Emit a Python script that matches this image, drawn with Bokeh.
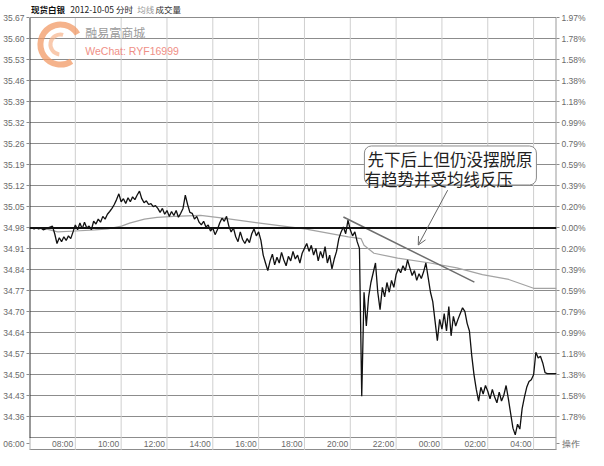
from bokeh.plotting import figure
from bokeh.models import Range1d, LinearAxis, FixedTicker, Span, Label, Arrow, OpenHead
from bokeh.core.properties import value
from bokeh.embed import file_html
from bokeh.resources import INLINE

# ---------------- data ----------------
# price sampled every 6 minutes from 06:00 (minute 0) to 05:00 next day (minute 1380)
price = [
    34.980, 34.980, 34.977, 34.980, 34.977, 34.980, 34.974, 34.977, 34.980, 34.983, 34.986,
    34.961, 34.929,
    34.948, 34.935, 34.951, 34.939, 34.954, 34.945,
    34.967, 34.990,
    34.974, 34.996, 34.977, 34.999, 34.980, 34.986, 34.974, 35.002,
    34.993, 35.009, 34.999, 35.018, 35.009, 35.025,
    35.034, 35.044, 35.057,
    35.073, 35.092, 35.066,
    35.076, 35.060, 35.079, 35.066, 35.082, 35.073, 35.088,
    35.101, 35.076,
    35.063, 35.069, 35.057, 35.060, 35.050, 35.053, 35.044,
    35.031, 35.044, 35.025, 35.037, 35.018, 35.034, 35.021, 35.037, 35.015, 35.028, 35.044,
    35.088, 35.057, 35.031,
    35.028, 35.009, 35.018, 34.999,
    34.990, 35.002, 34.983, 34.990,
    34.970, 34.980, 34.958, 34.974,
    34.996, 35.012, 35.002, 35.018,
    34.986, 34.967, 34.980,
    34.951, 34.935, 34.967, 34.942, 34.929, 34.945, 34.932,
    34.961, 34.977, 34.954, 34.967, 34.939,
    34.891, 34.865, 34.840,
    34.872, 34.894, 34.859, 34.884, 34.865, 34.900, 34.875, 34.856, 34.887, 34.872, 34.903, 34.878,
    34.891, 34.865, 34.897, 34.913,
    34.929, 34.903, 34.923,
    34.891, 34.913, 34.872, 34.903, 34.881, 34.919, 34.865, 34.891, 34.846, 34.878, 34.903,
    34.945, 34.967, 34.983, 34.961, 35.006,
    34.974, 34.954, 34.967, 34.935, 34.913,
    34.428, 34.769, 34.658, 34.754, 34.801, 34.833, 34.865, 34.769, 34.712, 34.785, 34.754,
    34.801, 34.769, 34.808, 34.785, 34.827,
    34.846, 34.833, 34.856, 34.840, 34.875, 34.849,
    34.824, 34.840, 34.808, 34.830, 34.814, 34.836,
    34.865, 34.817, 34.769, 34.738, 34.674, 34.610,
    34.680, 34.648, 34.699, 34.642, 34.722,
    34.626, 34.690, 34.658, 34.680, 34.699, 34.718, 34.706, 34.667, 34.642,
    34.562, 34.498, 34.450, 34.412, 34.457,
    34.435, 34.463, 34.444, 34.419, 34.450, 34.425, 34.406, 34.441, 34.412, 34.431,
    34.463, 34.419, 34.371, 34.323, 34.301, 34.336, 34.320, 34.387, 34.425, 34.457,
    34.476, 34.482, 34.498, 34.572, 34.553, 34.559, 34.537, 34.505,
    34.502, 34.502, 34.502, 34.502, 34.502,
]
minutes = list(range(0, 6 * len(price), 6))

# average-price line (均线)
avg_minutes = [0, 43, 74, 120, 172, 205, 241, 262, 301, 334, 378, 448, 507, 603,
               721, 835, 868, 876, 902, 964, 1049, 1119, 1186, 1255, 1320, 1380]
avg_price = [34.980, 34.977, 34.967, 34.970, 34.974, 34.977, 34.986, 34.996, 35.009,
             35.015, 35.018, 35.021, 35.012, 34.996, 34.977, 34.951, 34.945, 34.923,
             34.897, 34.881, 34.865, 34.849, 34.827, 34.811, 34.782, 34.782]

# hand-drawn resistance line
trend_minutes = [822, 1165]
trend_price = [35.016, 34.802]

# axes
price_base = 34.98
price_step = 0.0689
price_labels = ["35.67", "35.60", "35.53", "35.46", "35.39", "35.32", "35.26", "35.19",
                "35.12", "35.05", "34.98", "34.91", "34.84", "34.77", "34.70", "34.64",
                "34.57", "34.50", "34.43", "34.36"]
pct_labels = ["1.97%", "1.78%", "1.58%", "1.38%", "1.18%", "0.99%", "0.79%", "0.59%",
              "0.39%", "0.20%", "0.00%", "0.20%", "0.39%", "0.59%", "0.79%", "0.99%",
              "1.18%", "1.38%", "1.58%", "1.78%"]
time_labels = ["06:00", "08:00", "10:00", "12:00", "14:00", "16:00", "18:00", "20:00",
               "22:00", "00:00", "02:00", "04:00"]
time_minutes = [0, 120, 240, 360, 480, 600, 720, 840, 960, 1080, 1200, 1320]
session_end = 1380

title_name = "现货白银"
title_date = "2012-10-05 分时"
title_avg = "均线"
title_vol = "成交量"
note_lines = ["先下后上但仍没摆脱原", "有趋势并受均线反压"]
corner_text = "操作"
wm_name = "融易富商城"
wm_wechat = "WeChat: RYF16999"

# ---------------- layout helpers ----------------
PX = 0.003281                      # price units per screen pixel (layout only)
tick_prices = [round(price_base + price_step * k, 4) for k in range(10, -10, -1)]
y_lo = round(price_base - 10 * price_step, 4)
top_tick = tick_prices[0]
row_center = y_lo - 6 * PX         # time-label row below the price area
row_bottom = y_lo - 12 * PX
y_start = y_lo - 12.6 * PX
y_end = top_tick + 17.5 * PX       # header row inside the frame

p = figure(width=588, height=450, x_range=Range1d(0, session_end), y_range=Range1d(y_start, y_end),
           output_backend="svg", toolbar_location=None,
           min_border_left=27, min_border_right=30, min_border_top=0, min_border_bottom=0,
           background_fill_color="white", border_fill_color="white",
           outline_line_color=None, x_axis_location=None)

LABEL_FONT = "Liberation Sans"
LABEL_SIZE = "8.5px"
LABEL_COLOR = "#6a6a6a"

# left price axis (its bottom cell carries the first time label)
left_ticks = tick_prices + [row_center]
left_over = {t: lbl for t, lbl in zip(tick_prices, price_labels)}
left_over[row_center] = time_labels[0]
p.yaxis.ticker = FixedTicker(ticks=left_ticks)
p.yaxis.major_label_overrides = left_over
p.yaxis.major_tick_out = 3
p.yaxis.major_tick_in = 0
p.yaxis.major_tick_line_color = "#8c8c8c"
p.yaxis.minor_tick_line_color = None
p.yaxis.axis_line_color = None
p.yaxis.major_label_standoff = 2
p.yaxis.major_label_text_font = LABEL_FONT
p.yaxis.major_label_text_font_size = LABEL_SIZE
p.yaxis.major_label_text_color = LABEL_COLOR

# right percent axis (its bottom cell carries "操作")
right_ticks = tick_prices + [row_center]
right_over = {t: lbl for t, lbl in zip(tick_prices, pct_labels)}
right_over[row_center] = corner_text
raxis = LinearAxis(ticker=FixedTicker(ticks=right_ticks), major_label_overrides=right_over,
                   major_tick_out=3, major_tick_in=0, major_tick_line_color="#8c8c8c",
                   minor_tick_line_color=None, axis_line_color=None,
                   major_label_standoff=2, major_label_text_font=LABEL_FONT,
                   major_label_text_font_size=LABEL_SIZE, major_label_text_color=LABEL_COLOR)
p.add_layout(raxis, "right")

# grids
p.xgrid.grid_line_color = None
p.ygrid.ticker = FixedTicker(ticks=tick_prices + [y_lo, row_bottom])
p.ygrid.grid_line_color = "#8c8c8c"
p.ygrid.grid_line_width = 1
n_v = len(time_minutes) - 1
p.segment(x0=time_minutes[1:], y0=[row_bottom] * n_v, x1=time_minutes[1:], y1=[top_tick] * n_v,
          line_color="#cfcfcf", line_width=1)
# left / right axis lines
p.segment(x0=[0, 0], y0=[y_lo, row_bottom], x1=[0, 0], y1=[top_tick, y_lo],
          line_color=["#333333", "#b0b0b0"], line_width=2)
p.segment(x0=[session_end], y0=[row_bottom], x1=[session_end], y1=[top_tick],
          line_color="#9a9a9a", line_width=2)

p.add_layout(Span(location=price_base, dimension="width", line_color="#111111", line_width=2))

# time labels: right-aligned just before their grid line
p.text(x=time_minutes[1:], y=[row_center] * n_v, text=time_labels[1:],
       text_font=value(LABEL_FONT), text_font_size=LABEL_SIZE, text_color=LABEL_COLOR,
       text_align="right", text_baseline="middle", x_offset=-2)

# watermark
p.arc(x=[81], y=[35.582], radius=20, radius_units="screen", start_angle=0.55, end_angle=5.3,
      line_color="#f29a66", line_width=6, line_alpha=0.75)
p.arc(x=[81], y=[35.582], radius=10, radius_units="screen", start_angle=1.3, end_angle=4.6,
      line_color="#f6b48c", line_width=4, line_alpha=0.7)
p.add_layout(Label(x=146, y=35.622, text=wm_name, text_font="Noto Sans CJK SC",
                   text_font_size="12px", text_color="#9a9a9a", text_baseline="middle"))
p.add_layout(Label(x=146, y=35.562, text=wm_wechat, text_font="Liberation Sans",
                   text_font_size="10.5px", text_color="#ef8f86", text_baseline="middle"))

# series
p.line(avg_minutes, avg_price, line_color="#a3a3a3", line_width=1.2)
p.line(minutes, price, line_color="#111111", line_width=1.3)
p.line(trend_minutes, trend_price, line_color="#6e6e6e", line_width=1.5)

# annotation callout: first line's box is padded down to enclose the second line
p.add_layout(Label(x=877, y=35.249, text=note_lines[0], text_font="Noto Sans CJK SC",
                   text_font_size="16.5px", text_color="#222222", text_baseline="top",
                   text_align="left", border_line_color="#8a8a8a", border_line_width=1,
                   background_fill_color="white", border_radius=7,
                   padding=dict(left=3, right=4, top=1, bottom=14)))
p.add_layout(Label(x=877, y=35.140, text=note_lines[1], text_font="Noto Sans CJK SC",
                   text_font_size="16.5px", text_color="#222222", text_baseline="middle",
                   text_align="left"))
p.add_layout(Arrow(end=OpenHead(size=8, line_color="#666666", line_width=1),
                   x_start=1095, y_start=35.104, x_end=1018, y_end=34.924,
                   line_color="#666666", line_width=1))

# header (inside the frame, above the top grid line)
hy = top_tick + 8.5 * PX
p.add_layout(Label(x=4, y=hy, text=title_name, text_font="Noto Sans CJK SC",
                   text_font_size="8.5px", text_font_style="bold", text_color="#111111",
                   text_baseline="middle"))
p.add_layout(Label(x=107, y=hy, text=title_date, text_font="Noto Sans CJK SC",
                   text_font_size="8.5px", text_color="#222222", text_baseline="middle"))
p.add_layout(Label(x=282, y=hy, text=title_avg, text_font="Noto Sans CJK SC",
                   text_font_size="8.5px", text_color="#9a9a9a", text_baseline="middle"))
p.add_layout(Label(x=330, y=hy, text=title_vol, text_font="Noto Sans CJK SC",
                   text_font_size="8.5px", text_color="#333333", text_baseline="middle"))

open("out.html", "w").write(file_html(p, INLINE))
